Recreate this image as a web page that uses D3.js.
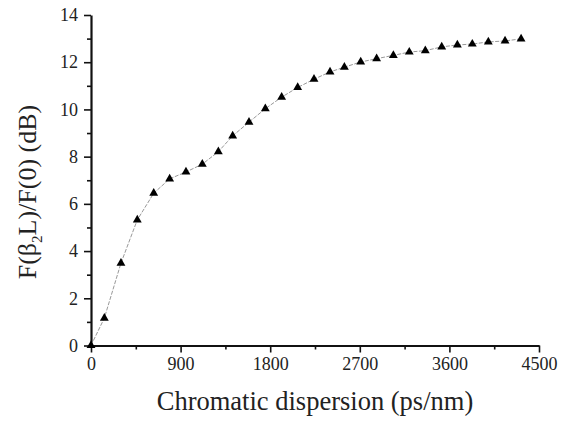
<!DOCTYPE html>
<html>
<head>
<meta charset="utf-8">
<script src="https://cdn.jsdelivr.net/npm/d3@7"></script>
</head>
<body style="margin:0;background:#fff">
<svg id="chart" width="561" height="421" style="display:block">
  <text x="315" y="410" text-anchor="middle" font-family="Liberation Serif, Times New Roman, serif" font-size="26.5" fill="#222">Chromatic dispersion (ps/nm)</text>
  <text transform="translate(36,192) rotate(-90)" text-anchor="middle" font-family="Liberation Serif, Times New Roman, serif" font-size="26" fill="#222">F(β<tspan font-size="15" dy="6">2</tspan><tspan dy="-6">L)/F(0) (dB)</tspan></text>
</svg>
<script>
// Chromatic dispersion (ps/nm) vs. F(β2L)/F(0) in dB
const dispersion = [0, 134, 301, 465, 630, 790, 954, 1118, 1279, 1423, 1587, 1751,
  1915, 2076, 2240, 2401, 2545, 2709, 2869, 3037, 3197, 3358, 3523, 3680, 3830, 3991, 4159, 4320];
const penalty = [0, 1.16, 3.49, 5.32, 6.45, 7.06, 7.35, 7.68, 8.21, 8.88, 9.46, 10.03,
  10.52, 10.93, 11.28, 11.59, 11.79, 12.01, 12.15, 12.29, 12.43, 12.49, 12.65, 12.73, 12.77, 12.86, 12.90, 12.99];
const xTicks = [0, 900, 1800, 2700, 3600, 4500];
const xMinor = [450, 1350, 2250, 3150, 4050];
const yTicks = [0, 2, 4, 6, 8, 10, 12, 14];
const yMinor = [1, 3, 5, 7, 9, 11, 13];

const FONT = "Liberation Serif, Times New Roman, serif";
const svg = d3.select("#chart");
const x = d3.scaleLinear().domain([0, 4500]).range([91, 539]);
const y = d3.scaleLinear().domain([0, 14]).range([345.5, 15]);

// minor ticks
svg.append("g").attr("transform", `translate(0,${y(0)})`)
  .call(d3.axisBottom(x).tickValues(xMinor).tickSize(4).tickFormat(""))
  .call(g => g.select(".domain").remove());
svg.append("g").attr("transform", `translate(${x(0)},0)`)
  .call(d3.axisLeft(y).tickValues(yMinor).tickSize(4).tickFormat(""))
  .call(g => g.select(".domain").remove());

// major axes
svg.append("g").attr("transform", `translate(0,${y(0)})`)
  .call(d3.axisBottom(x).tickValues(xTicks).tickSize(7).tickSizeOuter(0).tickPadding(5).tickFormat(d3.format("d")));
svg.append("g").attr("transform", `translate(${x(0)},0)`)
  .call(d3.axisLeft(y).tickValues(yTicks).tickSize(7).tickSizeOuter(0).tickPadding(6).tickFormat(d3.format("d")));

svg.selectAll("g").attr("font-family", FONT).attr("font-size", 18);
svg.selectAll(".tick line").attr("stroke", "#111").attr("stroke-width", 1.6);
svg.selectAll(".domain").attr("stroke", "#111").attr("stroke-width", 2.2);
svg.selectAll(".tick text").attr("font-size", 18).attr("fill", "#222")
  .attr("font-family", FONT);

// connecting line
const line = d3.line().x((d, i) => x(dispersion[i])).y(d => y(d));
svg.append("path").datum(penalty)
  .attr("d", line)
  .attr("fill", "none")
  .attr("stroke", "#999")
  .attr("stroke-width", 1)
  .attr("stroke-dasharray", "4,1.5");

// triangle markers
svg.append("g").selectAll("path").data(penalty).join("path")
  .attr("d", d3.symbol(d3.symbolTriangle, 34))
  .attr("transform", (d, i) => `translate(${x(dispersion[i])},${y(d)})`)
  .attr("fill", "#000");
</script>
</body>
</html>
